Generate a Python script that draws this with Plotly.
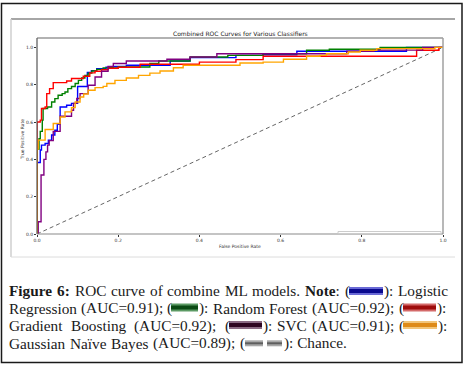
import plotly.graph_objects as go

# ---------------- data ----------------
lr_fpr = [0, 0, 0.008, 0.011, 0.02, 0.028, 0.036, 0.044, 0.05, 0.057, 0.073, 0.085, 0.10, 0.124, 0.134, 0.147, 0.17, 0.188, 0.22, 0.328, 0.377, 0.49, 0.557, 0.64, 0.91, 1.0]
lr_tpr = [0, 0.383, 0.45, 0.476, 0.485, 0.503, 0.53, 0.556, 0.588, 0.68, 0.69, 0.70, 0.79, 0.865, 0.875, 0.886, 0.893, 0.897, 0.904, 0.927, 0.945, 0.957, 0.96, 0.979, 1.0, 1.0]

rf_fpr = [0, 0, 0.005, 0.008, 0.013, 0.015, 0.026, 0.036, 0.044, 0.052, 0.062, 0.069, 0.076, 0.085, 0.094, 0.102, 0.11, 0.118, 0.126, 0.135, 0.147, 0.163, 0.2, 0.278, 0.3, 0.377, 0.47, 0.557, 0.664, 0.72, 0.845, 1.0]
rf_tpr = [0, 0.455, 0.51, 0.55, 0.61, 0.672, 0.68, 0.707, 0.725, 0.743, 0.752, 0.761, 0.779, 0.79, 0.806, 0.823, 0.836, 0.85, 0.862, 0.873, 0.882, 0.89, 0.895, 0.913, 0.927, 0.948, 0.957, 0.966, 0.984, 0.99, 1.0, 1.0]

gb_fpr = [0, 0, 0.008, 0.011, 0.02, 0.024, 0.031, 0.04, 0.073, 0.085, 0.114, 0.13, 0.143, 0.159, 0.175, 0.2, 0.254, 0.40, 0.49, 0.557, 0.935, 0.99, 1.0]
gb_tpr = [0, 0.6, 0.61, 0.672, 0.68, 0.752, 0.779, 0.811, 0.82, 0.833, 0.845, 0.863, 0.872, 0.88, 0.888, 0.893, 0.909, 0.921, 0.934, 0.952, 0.984, 1.0, 1.0]

svc_fpr = [0, 0.003, 0.01, 0.017, 0.022, 0.026, 0.03, 0.04, 0.057, 0.085, 0.09, 0.098, 0.106, 0.126, 0.143, 0.159, 0.175, 0.188, 0.22, 0.32, 0.377, 0.443, 0.763, 0.83, 0.95, 1.0]
svc_tpr = [0, 0.066, 0.316, 0.40, 0.44, 0.476, 0.5, 0.55, 0.631, 0.663, 0.70, 0.726, 0.752, 0.797, 0.841, 0.872, 0.898, 0.913, 0.927, 0.936, 0.948, 0.966, 0.979, 0.985, 1.0, 1.0]

nb_fpr = [0, 0, 0.003, 0.02, 0.04, 0.057, 0.069, 0.085, 0.094, 0.106, 0.115, 0.126, 0.143, 0.163, 0.172, 0.192, 0.22, 0.25, 0.278, 0.303, 0.336, 0.36, 0.5, 0.557, 0.607, 0.664, 0.697, 0.713, 0.767, 0.796, 0.837, 0.98, 1.0]
nb_tpr = [0, 0.455, 0.503, 0.56, 0.592, 0.627, 0.654, 0.677, 0.707, 0.734, 0.75, 0.77, 0.784, 0.791, 0.806, 0.823, 0.836, 0.85, 0.862, 0.873, 0.891, 0.904, 0.916, 0.921, 0.936, 0.952, 0.957, 0.966, 0.975, 0.984, 0.993, 1.0, 1.0]

chance_x = [0, 1]
chance_y = [0, 1]

tick_vals = [0.0, 0.2, 0.4, 0.6, 0.8, 1.0]
tick_text = ["0.0", "0.2", "0.4", "0.6", "0.8", "1.0"]

series = [
    ("Logistic Regression", lr_fpr, lr_tpr, "#0000ff"),
    ("Random Forest", rf_fpr, rf_tpr, "#008000"),
    ("Gradient Boosting", gb_fpr, gb_tpr, "#ff0000"),
    ("SVC", svc_fpr, svc_tpr, "#800080"),
    ("Gaussian Naive Bayes", nb_fpr, nb_tpr, "#ffa500"),
]

# ---------------- layout helpers ----------------
W, H = 465, 368
PL, PR, PT, PB = 37, 443, 38, 234
PW, PH = PR - PL, PB - PT

def fx(x):
    return (x - PL) / PW

def fy(y):
    return (PB - y) / PH

fig = go.Figure()

fig.add_trace(go.Scatter(x=chance_x, y=chance_y, mode="lines",
                         line=dict(color="#666666", width=1, dash="4px,3px"),
                         showlegend=False, hoverinfo="skip"))
for name, xs, ys, col in series:
    fig.add_trace(go.Scatter(x=xs, y=ys, mode="lines", name=name,
                             line=dict(color=col, width=1.4, shape="hv"),
                             showlegend=False))

shapes = []
# outer dark frame
shapes.append(dict(type="rect", xref="paper", yref="paper",
                   x0=fx(1.5), x1=fx(462), y0=fy(362.5), y1=fy(3.5),
                   line=dict(color="#1a1a1a", width=1.5), fillcolor="rgba(0,0,0,0)", layer="below"))
# image frame lines
shapes.append(dict(type="line", xref="paper", yref="paper",
                   x0=fx(11), x1=fx(455), y0=fy(19), y1=fy(19),
                   line=dict(color="#a6a6a6", width=2)))
shapes.append(dict(type="line", xref="paper", yref="paper",
                   x0=fx(11), x1=fx(11), y0=fy(19), y1=fy(257),
                   line=dict(color="#cfcfcf", width=1.5)))
shapes.append(dict(type="line", xref="paper", yref="paper",
                   x0=fx(11), x1=fx(455), y0=fy(257), y1=fy(257),
                   line=dict(color="#dcdcdc", width=1)))
# spines
shapes.append(dict(type="line", xref="paper", yref="paper", x0=0, x1=0, y0=0, y1=1,
                   line=dict(color="#555555", width=1.2), layer="above"))
shapes.append(dict(type="line", xref="paper", yref="paper", x0=0, x1=1, y0=1, y1=1,
                   line=dict(color="#666666", width=1.2), layer="above"))
shapes.append(dict(type="line", xref="paper", yref="paper", x0=1, x1=1, y0=0, y1=1,
                   line=dict(color="#a0a0a0", width=1.5), layer="above"))
shapes.append(dict(type="line", xref="paper", yref="paper", x0=0, x1=1, y0=0, y1=0,
                   line=dict(color="#8a8a8a", width=1.2), layer="above"))
# collapsed legend box
shapes.append(dict(type="rect", xref="paper", yref="paper",
                   x0=fx(338), x1=fx(441), y0=fy(233.5), y1=fy(231.5),
                   line=dict(color="#cccccc", width=1), fillcolor="white", layer="above"))

ann = []
ann.append(dict(text="Combined ROC Curves for Various Classifiers", x=fx(240), y=fy(33),
                xref="paper", yref="paper", showarrow=False, xanchor="center", yanchor="middle",
                font=dict(family="DejaVu Sans", size=6, color="#222222")))
ann.append(dict(text="False Positive Rate", x=fx(240), y=fy(246.5),
                xref="paper", yref="paper", showarrow=False, xanchor="center", yanchor="middle",
                font=dict(family="DejaVu Sans", size=4.5, color="#333333")))
ann.append(dict(text="True Positive Rate", x=fx(22), y=fy(140),
                xref="paper", yref="paper", showarrow=False, xanchor="center", yanchor="middle",
                textangle=-90, font=dict(family="DejaVu Sans", size=4.5, color="#333333")))

# ---------------- caption (justified like the reference) ----------------
CAP_SIZE = 15.3
CAP_FONT = dict(family="Liberation Serif", size=CAP_SIZE, color="#1a1a1a")

# Times / Liberation Serif advance widths (1/1000 em)
REG = {' ': 250, '(': 333, ')': 333, '.': 250, ':': 278, ';': 278, '=': 564,
       'A': 722, 'B': 667, 'C': 667, 'F': 556, 'G': 722, 'L': 611, 'M': 889, 'N': 722,
       'O': 722, 'R': 667, 'S': 556, 'U': 722, 'V': 722,
       'a': 444, 'b': 500, 'c': 444, 'd': 500, 'e': 444, 'f': 333, 'g': 500, 'h': 500,
       'i': 278, 'l': 278, 'm': 778, 'n': 500, 'o': 500, 'r': 333, 's': 389, 't': 278,
       'u': 500, 'v': 500, 'y': 500, '\u00ef': 278}
BOLD = {' ': 250, ':': 333, '6': 500, 'F': 611, 'N': 722, 'e': 444, 'g': 500, 'i': 278,
        'o': 500, 'r': 444, 't': 333, 'u': 556}

def tok_width(parts):
    w = 0
    for s, b in parts:
        for ch in s:
            tbl = BOLD if b else REG
            w += tbl.get(ch, 500 if ch.isdigit() else 500)
    return w * CAP_SIZE / 1000.0

def tok_html(parts):
    return "".join(("<b>%s</b>" % s) if b else s for s, b in parts)

def justify(tokens, x0, x1, y):
    ws = [tok_width(t) for t in tokens]
    if len(tokens) == 1:
        gap = 0
    else:
        gap = (x1 - x0 - sum(ws)) / (len(tokens) - 1)
    x = x0
    for t, w in zip(tokens, ws):
        ann.append(dict(text=tok_html(t), x=fx(x), y=fy(y), xref="paper", yref="paper",
                        showarrow=False, xanchor="left", yanchor="middle", borderpad=0,
                        font=CAP_FONT))
        x += w + gap

def R(s):
    return [(s, False)]

def swatch(x0, x1, yc, light, dark, h=8):
    shapes.append(dict(type="rect", xref="paper", yref="paper", x0=fx(x0), x1=fx(x1),
                       y0=fy(yc + h / 2), y1=fy(yc - h / 2), line=dict(width=0),
                       fillcolor=light, layer="above"))
    shapes.append(dict(type="rect", xref="paper", yref="paper", x0=fx(x0), x1=fx(x1),
                       y0=fy(yc + h / 2 - 2), y1=fy(yc - h / 2 + 2), line=dict(width=0),
                       fillcolor=dark, layer="above"))

cap_y = [290.5, 308, 325.5, 343]
sw_y = [291, 307.5, 325, 343.3]

# line 1
justify([[("Figure", True)], [("6:", True)], R("ROC"), R("curve"), R("of"), R("combine"),
         R("ML"), R("models."), [("Note", True), (":", False)], R("(")], 8, 349, cap_y[0])
swatch(349, 383, sw_y[0], "#6a6ad6", "#0a0a8e")
justify([R("):"), R("Logistic")], 383, 447, cap_y[0])
# line 2
justify([R("Regression"), R("(AUC=0.91);"), R("(")], 8, 171, cap_y[1])
swatch(171, 198, sw_y[1], "#5c9a64", "#0b4a14")
justify([R("):"), R("Random"), R("Forest"), R("(AUC=0.92);"), R("(")], 198, 403, cap_y[1])
swatch(403, 436, sw_y[1], "#d46a6a", "#9e0c0c")
justify([R("):")], 436, 447, cap_y[1])
# line 3
justify([R("Gradient"), R("Boosting"), R("(AUC=0.92);"), R("(")], 8, 229, cap_y[2])
swatch(229, 262, sw_y[2], "#8a6a84", "#2e0622")
justify([R("):"), R("SVC"), R("(AUC=0.91);"), R("(")], 262, 403, cap_y[2])
swatch(403, 437, sw_y[2], "#f2c57a", "#de8a18")
justify([R("):")], 437, 447, cap_y[2])
# line 4
justify([R("Gaussian"), R("Na\u00efve"), R("Bayes"), R("(AUC=0.89);"), R("(")], 8, 244, cap_y[3])
swatch(245, 263, sw_y[3], "#a8a8a8", "#5e5e5e", h=6)
swatch(267, 282, sw_y[3], "#a8a8a8", "#5e5e5e", h=6)
justify([R("): Chance.")], 283, 347, cap_y[3])

fig.update_layout(
    width=W, height=H,
    margin=dict(l=PL, r=W - PR, t=PT, b=H - PB, autoexpand=False),
    paper_bgcolor="white", plot_bgcolor="white",
    shapes=shapes, annotations=ann, showlegend=False,
    xaxis=dict(range=[0, 1], tickvals=tick_vals, ticktext=tick_text, showgrid=False,
               zeroline=False, showline=False, ticks="outside", ticklen=2, tickwidth=0.8,
               tickcolor="#333333", tickfont=dict(family="DejaVu Sans", size=4.5, color="#333333")),
    yaxis=dict(range=[0, 1.05], tickvals=tick_vals, ticktext=tick_text, showgrid=False,
               zeroline=False, showline=False, ticks="outside", ticklen=2, tickwidth=0.8,
               tickcolor="#333333", tickfont=dict(family="DejaVu Sans", size=4.5, color="#333333")),
)

fig.write_html("out.html", config={"displayModeBar": False},
               post_script="document.body.style.margin='0';document.body.style.overflow='hidden';")
